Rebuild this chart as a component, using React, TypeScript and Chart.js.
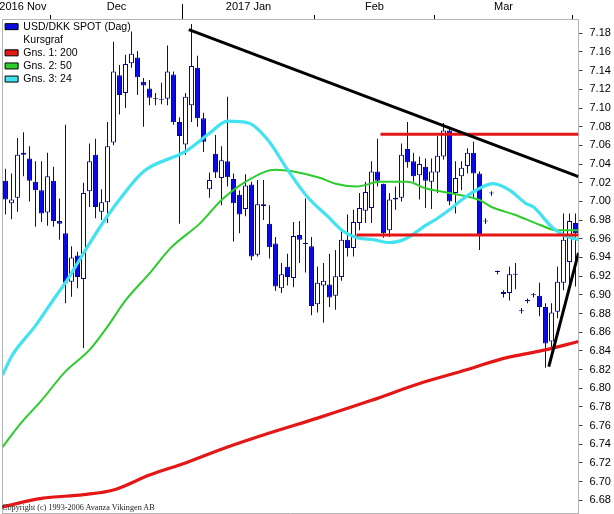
import React, { useEffect, useRef } from 'react';
import { Chart, registerables } from 'chart.js';

Chart.register(...registerables);

// ---- Candles (one per trading day, index 0 = 2016-11-22 ... 95) ----
const opens = [7.022, 6.998, 7.004, 7.052, 7.046, 7.021, 7.012, 6.988, 7.022, 6.979,
  6.966, 6.914, 6.942, 6.917, 7.011, 7.050, 6.989, 6.999, 7.063, 7.135,
  7.116, 7.148, 7.154, 7.128, 7.121, 7.1105, 7.1095, 7.110, 7.136, 7.085,
  7.061, 7.103, 7.143, 7.089, 7.013, 7.051, 7.025, 7.043, 7.024, 7.007,
  6.992, 7.018, 6.943, 6.997, 6.976, 6.955, 6.907, 6.930, 6.918, 6.964,
  6.9555, 6.952, 6.890, 6.910, 6.911, 6.899, 6.919, 6.959, 6.950, 6.977,
  6.990, 6.993, 7.032, 7.019, 6.969, 7.002, 7.004, 7.056, 7.043, 7.028,
  7.037, 7.021, 7.031, 7.048, 7.076, 7.009, 7.027, 7.038, 7.052, 7.030,
  6.9795, 7.0095, 6.9255, 6.903, 6.902, 6.9225, 6.8835, 6.8945, 6.9005, 6.899,
  6.887, 6.850, 6.882, 6.913, 6.935, 6.977];
const highs = [7.035, 7.030, 7.068, 7.074, 7.059, 7.043, 7.043, 7.052, 7.037, 7.003,
  7.082, 6.952, 6.946, 7.020, 7.062, 7.067, 7.013, 7.085, 7.171, 7.146,
  7.157, 7.182, 7.161, 7.132, 7.130, 7.116, 7.127, 7.167, 7.139, 7.090,
  7.116, 7.190, 7.156, 7.095, 7.031, 7.071, 7.059, 7.112, 7.030, 7.012,
  7.029, 7.021, 7.023, 7.023, 6.996, 6.962, 6.934, 6.944, 6.978, 6.979,
  7.003, 6.962, 6.930, 6.934, 6.944, 6.948, 6.969, 6.986, 6.991, 7.009,
  7.021, 7.043, 7.067, 7.019, 7.009, 7.016, 7.062, 7.085, 7.052, 7.048,
  7.046, 7.046, 7.070, 7.084, 7.080, 7.043, 7.043, 7.057, 7.064, 7.032,
  6.982, 7.011, 6.926, 6.905, 6.930, 6.934, 6.886, 6.896, 6.902, 6.913,
  6.891, 6.891, 6.930, 6.987, 6.987, 6.987];
const lows = [6.986, 6.981, 6.989, 7.027, 7.000, 6.973, 6.978, 6.974, 6.973, 6.959,
  6.891, 6.898, 6.907, 6.843, 6.994, 6.982, 6.980, 6.977, 7.060, 7.093,
  7.100, 7.143, 7.114, 7.080, 7.103, 7.103, 7.104, 7.103, 7.082, 6.976,
  7.050, 7.085, 7.080, 7.053, 7.004, 7.025, 6.996, 7.016, 6.957, 6.966,
  6.984, 6.937, 6.941, 6.980, 6.939, 6.904, 6.902, 6.910, 6.908, 6.934,
  6.924, 6.878, 6.881, 6.870, 6.887, 6.884, 6.915, 6.941, 6.941, 6.969,
  6.977, 6.977, 7.016, 6.961, 6.962, 6.991, 7.000, 7.036, 7.021, 7.002,
  6.993, 6.992, 7.009, 7.045, 6.996, 6.987, 7.012, 7.030, 7.003, 6.948,
  6.976, 7.006, 6.922, 6.897, 6.894, 6.906, 6.880, 6.891, 6.897, 6.877,
  6.822, 6.843, 6.875, 6.905, 6.909, 6.909];
const closes = [7.002, 7.002, 7.050, 7.050, 7.022, 7.012, 6.987, 7.027, 6.979, 6.976,
  6.913, 6.940, 6.919, 7.009, 7.043, 6.994, 6.999, 7.059, 7.139, 7.114,
  7.147, 7.158, 7.133, 7.124, 7.111, 7.1095, 7.1085, 7.139, 7.085, 7.070,
  7.112, 7.145, 7.089, 7.064, 7.023, 7.031, 7.044, 7.026, 6.998, 6.986,
  7.017, 6.941, 6.997, 6.995, 6.951, 6.909, 6.922, 6.919, 6.963, 6.959,
  6.9545, 6.888, 6.913, 6.915, 6.897, 6.920, 6.959, 6.950, 6.978, 6.993,
  7.010, 7.032, 7.022, 6.966, 7.002, 7.004, 7.050, 7.042, 7.027, 7.040,
  7.022, 7.032, 7.049, 7.076, 7.000, 7.025, 7.036, 7.052, 7.030, 6.964,
  6.9785, 7.0085, 6.9245, 6.901, 6.922, 6.9215, 6.8825, 6.8935, 6.8995, 6.887,
  6.848, 6.881, 6.914, 6.959, 6.979, 6.966];

// ---- Moving averages, read at selected day positions ----
const ma200Idx = [-0.5, 6, 13, 18, 24, 30, 37, 44, 52, 61, 69, 77, 83, 86, 90, 95.5];
const ma200Val = [6.673, 6.682, 6.686, 6.691, 6.707, 6.720, 6.737, 6.752, 6.768, 6.787, 6.805, 6.820, 6.832, 6.836, 6.841, 6.850];

const ma50Idx = [-0.5, 2.5, 6, 10, 14, 17, 20, 24, 27.5, 32.5, 36, 40, 45, 48, 52.5, 55, 58.5, 62.5, 67, 70, 74, 79, 81, 85, 89, 92, 95.5];
const ma50Val = [6.737, 6.762, 6.787, 6.818, 6.841, 6.866, 6.894, 6.923, 6.950, 6.977, 7.0015, 7.021, 7.034, 7.032, 7.025, 7.019, 7.016, 7.021, 7.021, 7.014, 7.009, 7.0015, 6.994, 6.9855, 6.975, 6.969, 6.969];

const ma24Idx = [-0.5, 1, 5, 8, 10.3, 13, 16, 19, 23, 30, 34, 37, 40.5, 43.7, 47, 50.3, 53.7, 56.3, 58.7, 61.3, 64, 66.7, 69.7, 72, 74, 76, 78.7, 81.3, 84, 86.7, 88, 91, 93, 95.5];
const ma24Val = [6.814, 6.834, 6.867, 6.895, 6.916, 6.9445, 6.975, 7.002, 7.032, 7.0535, 7.073, 7.086, 7.084, 7.066, 7.034, 7.005, 6.984, 6.968, 6.961, 6.959, 6.956, 6.960, 6.973, 6.982, 6.991, 7.0015, 7.013, 7.019, 7.012, 6.998, 6.994, 6.973, 6.964, 6.959];

// ---- Drawn trend / level lines ----
const trendDownIdx = [30.55, 95.5];
const trendDownVal = [7.184, 7.0265];
const trendUpIdx = [90.55, 95.5];
const trendUpVal = [6.823, 6.945];
const levelHighIdx = [62.5, 95.5];
const levelHighVal = [7.072, 7.072];
const levelLowIdx = [58.5, 95.5];
const levelLowVal = [6.964, 6.964];

// ---- Axes ----
const yTicks = [6.68, 6.70, 6.72, 6.74, 6.76, 6.78, 6.80, 6.82, 6.84, 6.86, 6.88, 6.90, 6.92,
  6.94, 6.96, 6.98, 7.00, 7.02, 7.04, 7.06, 7.08, 7.10, 7.12, 7.14, 7.16, 7.18];
const yMin = 6.6664;
const yMax = 7.1953;
const xMin = -0.5;
const xMax = 95.5;
const monthNames = ['2016 Nov', 'Dec', '2017 Jan', 'Feb', 'Mar'];
const monthLabelPos = [2.9, 18.5, 40.5, 61.5, 83];
const monthBoundaries = [7.5, 29.5, 51.5, 71.5, 94.5];
const yearBoundary = 29.5;

const legendNames = ['USD/DKK SPOT (Dag)', 'Kursgraf', 'Gns. 1: 200', 'Gns. 2: 50', 'Gns. 3: 24'];

const BLUE = '#0a0ae6';
const NAVY = '#06068f';
const RED = '#e41616';
const GREEN = '#2ccc2c';
const CYAN = '#42e2f0';
const FRAME = '#b4b4b4';

const pts = (xs: number[], ys: number[]) => xs.map((x, k) => ({ x, y: ys[k] }));

const noPad = (scale: any) => {
  scale.paddingTop = 0;
  scale.paddingBottom = 0;
  scale.paddingLeft = 0;
  scale.paddingRight = 0;
};

export default function App() {
  const ref = useRef<HTMLCanvasElement | null>(null);

  useEffect(() => {
    if (!ref.current) return;
    Chart.defaults.font.family = '"Liberation Sans", Arial, sans-serif';
    Chart.defaults.color = '#000';

    const lineDs = (label: string, xs: number[], ys: number[], color: string, width: number, order: number, smooth: boolean) => ({
      type: 'line' as const,
      label,
      xAxisID: 'x',
      yAxisID: 'y',
      data: pts(xs, ys),
      borderColor: color,
      backgroundColor: color,
      borderWidth: width,
      pointRadius: 0,
      fill: false,
      cubicInterpolationMode: smooth ? ('monotone' as const) : ('default' as const),
      order,
    });

    const chart = new Chart(ref.current, {
      type: 'bar',
      data: {
        datasets: [
          lineDs('trendDown', trendDownIdx, trendDownVal, '#000', 3, 0, false),
          lineDs('trendUp', trendUpIdx, trendUpVal, '#000', 3, 0, false),
          lineDs('levelHigh', levelHighIdx, levelHighVal, RED, 3, 1, false),
          lineDs('levelLow', levelLowIdx, levelLowVal, RED, 3, 1, false),
          lineDs('Gns. 3: 24', ma24Idx, ma24Val, CYAN, 3.2, 2, true),
          lineDs('Gns. 2: 50', ma50Idx, ma50Val, GREEN, 2, 3, true),
          lineDs('Gns. 1: 200', ma200Idx, ma200Val, RED, 3.2, 4, true),
          {
            type: 'bar' as const,
            label: 'body',
            xAxisID: 'x',
            yAxisID: 'y',
            data: opens.map((o, i) => ({ x: i, y: [o, closes[i]] })) as any,
            backgroundColor: (c: any) => (closes[c.dataIndex] < opens[c.dataIndex] ? BLUE : '#ffffff'),
            borderColor: NAVY,
            borderWidth: 1,
            borderSkipped: false,
            barThickness: 5,
            grouped: false,
            inflateAmount: 0,
            order: 5,
          },
          {
            type: 'bar' as const,
            label: 'wick',
            xAxisID: 'x',
            yAxisID: 'y',
            data: lows.map((l, i) => ({ x: i, y: [l, highs[i]] })) as any,
            backgroundColor: NAVY,
            borderWidth: 0,
            barThickness: 1,
            grouped: false,
            inflateAmount: 0,
            order: 6,
          },
        ] as any,
      },
      options: {
        responsive: false,
        animation: false,
        events: [],
        layout: { padding: { left: 2.5, right: 0, top: 0, bottom: 1 } },
        plugins: {
          tooltip: { enabled: false },
          title: { display: false },
          legend: {
            display: true,
            position: 'chartArea' as any,
            align: 'start',
            title: {
              display: true,
              text: '',
              font: { size: 10, lineHeight: 1.2 },
              padding: { top: 0, bottom: 6.8 },
            },
            labels: {
              boxWidth: 13,
              boxHeight: 6,
              padding: 2.6,
              color: '#000',
              font: { size: 10.5 },
              generateLabels: () => {
                const fills = [BLUE, 'rgba(0,0,0,0)', RED, GREEN, CYAN];
                return legendNames.map((text, k) => ({
                  text,
                  fillStyle: fills[k],
                  strokeStyle: k === 1 ? 'rgba(0,0,0,0)' : '#000',
                  lineWidth: k === 1 ? 0 : 1,
                  hidden: false,
                  fontColor: '#000',
                  datasetIndex: k,
                })) as any;
              },
            },
          },
        },
        scales: {
          x: {
            type: 'linear',
            position: 'top',
            offset: false,
            bounds: 'data',
            min: xMin,
            max: xMax,
            afterBuildTicks: (scale: any) => {
              const vals = [...monthBoundaries, ...monthLabelPos].sort((a, b) => a - b);
              scale.ticks = vals.map((v) => ({ value: v }));
            },
            afterFit: (scale: any) => {
              scale.height = 19;
              noPad(scale);
            },
            ticks: {
              autoSkip: false,
              maxRotation: 0,
              minRotation: 0,
              padding: -10,
              color: '#000',
              font: { size: 11 },
              callback: (value: any) => {
                const k = monthLabelPos.indexOf(Number(value));
                return k >= 0 ? monthNames[k] : '';
              },
            },
            grid: {
              offset: false,
              drawOnChartArea: false,
              drawTicks: true,
              tickLength: 15,
              tickWidth: 1,
              tickColor: (c: any) => (c.tick && monthBoundaries.includes(c.tick.value) ? '#000' : 'rgba(0,0,0,0)'),
              tickBorderDash: (c: any) => (c.tick && c.tick.value === yearBoundary ? [] : [0, 11, 4]),
            } as any,
            border: { display: true, color: FRAME, width: 1 },
          },
          y: {
            type: 'linear',
            position: 'right',
            beginAtZero: false,
            min: yMin,
            max: yMax,
            afterBuildTicks: (scale: any) => {
              scale.ticks = yTicks.map((v) => ({ value: v }));
            },
            afterFit: (scale: any) => {
              scale.width = 35.5;
              noPad(scale);
            },
            ticks: {
              padding: 7,
              color: '#000',
              font: { size: 11 },
              callback: (value: any) => Number(value).toFixed(2),
            },
            grid: {
              drawOnChartArea: false,
              drawTicks: true,
              tickLength: 4,
              tickColor: '#444',
            },
            border: { display: true, color: FRAME, width: 1 },
          },
          xb: {
            type: 'linear',
            position: 'bottom',
            offset: false,
            min: 0,
            max: 1,
            afterFit: (scale: any) => {
              scale.height = 0;
              noPad(scale);
            },
            ticks: { display: false },
            grid: { offset: false, drawOnChartArea: false, drawTicks: false },
            border: { display: true, color: FRAME, width: 1 },
          },
          yl: {
            type: 'linear',
            position: 'left',
            min: 0,
            max: 1,
            afterFit: (scale: any) => {
              scale.width = 0;
              noPad(scale);
            },
            ticks: { display: false },
            grid: { drawOnChartArea: false, drawTicks: false },
            border: { display: true, color: FRAME, width: 1 },
          },
        },
      } as any,
    });
    return () => chart.destroy();
  }, []);

  return (
    <div style={{ position: 'fixed', left: 0, top: 0, width: 614, height: 514, background: '#fff', overflow: 'hidden' }}>
      <canvas ref={ref} width={614} height={514} style={{ display: 'block' }} />
      <div
        style={{
          position: 'absolute',
          left: 2,
          top: 503,
          fontFamily: '"Liberation Serif", "Times New Roman", serif',
          fontSize: 8.2,
          lineHeight: '9px',
          color: '#222',
          whiteSpace: 'nowrap',
        }}
      >
        Copyright (c) 1993-2006 Avanza Vikingen AB
      </div>
    </div>
  );
}
